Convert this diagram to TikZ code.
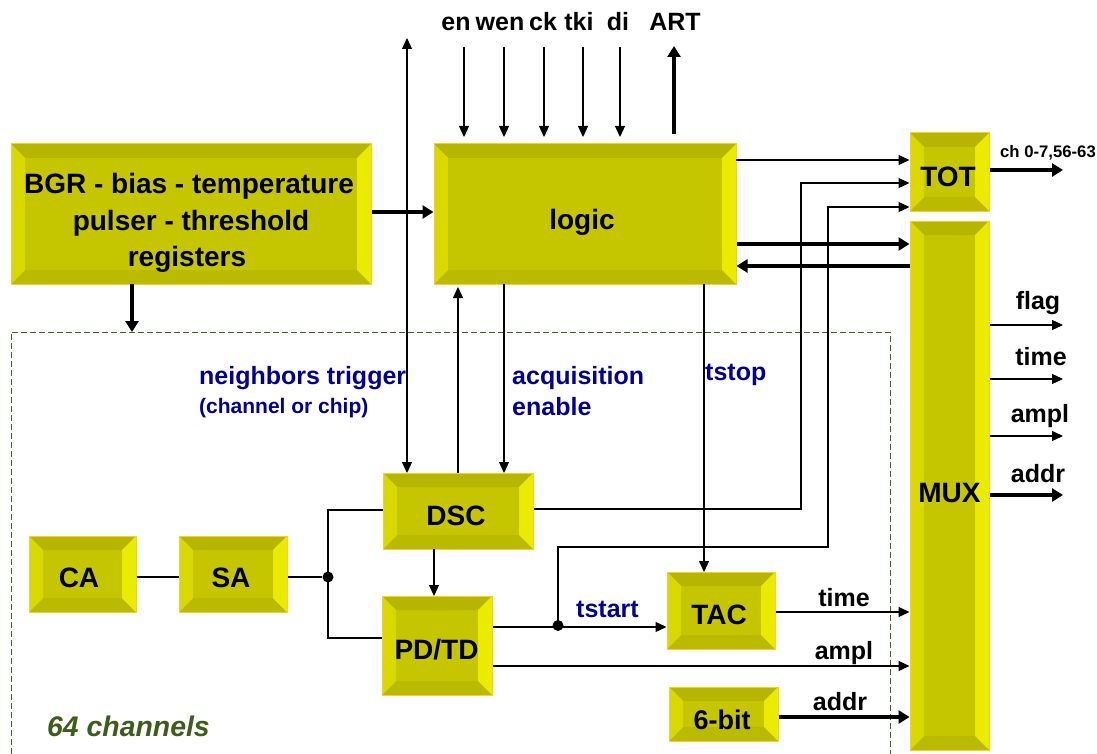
\documentclass[tikz,border=0pt]{standalone}
\usepackage{fontspec}
\setmainfont{Liberation Sans}
\usepackage{tikz}
\usetikzlibrary{arrows.meta, calc}
\definecolor{boxface}{RGB}{197, 197, 0}
\definecolor{boxtop}{RGB}{182, 182, 0}
\definecolor{boxbottom}{RGB}{186, 186, 0}
\definecolor{boxleft}{RGB}{217, 217, 0}
\definecolor{boxright}{RGB}{235, 235, 0}
\definecolor{boxedge}{RGB}{255, 205, 40}
\definecolor{labelblue}{RGB}{0, 0, 153}
\definecolor{channelgreen}{RGB}{62, 92, 28}
\definecolor{dashgreen}{RGB}{70, 100, 40}
% text inside a block, moved by dx and dy
\newcommand{\boxtext}[3]{\hspace*{#1}\raisebox{#2}[\height][\depth]{#3}}
\tikzset{
    bevelbox/.style n args={3}{draw=boxedge, line width=1pt, fill=boxface, inner sep=0pt,
        minimum width=#1, minimum height=#2, font=\bfseries\fontsize{#3}{#3}\selectfont, align=center,
        path picture={
            \coordinate (nw) at (path picture bounding box.north west);
            \coordinate (ne) at (path picture bounding box.north east);
            \coordinate (sw) at (path picture bounding box.south west);
            \coordinate (se) at (path picture bounding box.south east);
            \fill[boxtop] (nw) -- (ne) -- ++(-14pt,-14pt) -- ($(nw)+(14pt,-14pt)$) -- cycle;
            \fill[boxbottom] (sw) -- (se) -- ++(-14pt,14pt) -- ($(sw)+(14pt,14pt)$) -- cycle;
            \fill[boxleft] (nw) -- (sw) -- ++(14pt,14pt) -- ($(nw)+(14pt,-14pt)$) -- cycle;
            \fill[boxright] (ne) -- (se) -- ++(-14pt,14pt) -- ($(ne)+(-14pt,-14pt)$) -- cycle;
        }},
    wire/.style={line width=1.2pt, -{Triangle[length=11pt,width=10pt]}},
    plainwire/.style={line width=1.2pt},
    bothwire/.style={line width=1.2pt, {Triangle[length=11pt,width=10pt]}-{Triangle[length=11pt,width=10pt]}},
    fatwire/.style={line width=3.6pt, -{Triangle[length=11pt,width=13pt]}},
    junction/.style={circle, fill=black, inner sep=0pt, minimum size=11pt},
    pinlabel/.style={font=\bfseries\fontsize{25}{25}\selectfont, inner sep=0pt},
    outlabel/.style={font=\bfseries\fontsize{25}{25}\selectfont, inner sep=0pt},
    bluelabel/.style={font=\bfseries\fontsize{25}{31}\selectfont, text=labelblue, inner sep=0pt, align=left},
}
\begin{document}
\begin{tikzpicture}[x=1pt, y=-1pt]
    \useasboundingbox (0,0) rectangle (1097,754);
    % channel frame
    \draw[dashgreen, line width=1pt, dash pattern=on 6pt off 3pt] (11,754) -- (11,332) -- (890,332) -- (890,754);
    % blocks
    \node[bevelbox={360pt}{140pt}{28}] (bgr) at (191,214) {\boxtext{-4pt}{-9pt}{BGR - bias - temperature}\\[8.5pt]\boxtext{0pt}{-9pt}{pulser - threshold}\\[8.5pt]\boxtext{-8pt}{-9pt}{registers}};
    \node[bevelbox={302pt}{140pt}{28}] (logic) at (585,214) {\boxtext{-6pt}{-8pt}{logic}};
    \node[bevelbox={79pt}{78pt}{28}] (tot) at (949.5,172) {\boxtext{-3pt}{-5pt}{TOT}};
    \node[bevelbox={79pt}{529pt}{28}] (mux) at (949.5,485.5) {\boxtext{0pt}{-8pt}{MUX}};
    \node[bevelbox={150pt}{76pt}{28}] (dsc) at (458,511) {\boxtext{-4pt}{-5pt}{DSC}};
    \node[bevelbox={110pt}{99pt}{28}] (pdtd) at (437,645.5) {\boxtext{-1pt}{-4pt}{PD/TD}};
    \node[bevelbox={107pt}{76pt}{28}] (ca) at (82.5,574) {\boxtext{-7pt}{-4pt}{CA}};
    \node[bevelbox={108pt}{76pt}{28}] (sa) at (233,574) {\boxtext{-4pt}{-4pt}{SA}};
    \node[bevelbox={108pt}{77pt}{28}] (tac) at (721,610.5) {\boxtext{-4pt}{-4pt}{TAC}};
    \node[bevelbox={109pt}{54pt}{27}] (sixbit) at (723.5,714) {\boxtext{-3pt}{-6pt}{6-bit}};
    % free ends
    \coordinate (nbtop) at (407,38);
    \node[junction] (sumdot) at (328,577) {};
    \node[junction] (startdot) at (558,625.5) {};
    % pins on top
    \foreach \pinname/\pinx/\textx in {en/464/456, wen/504/500, ck/544/543, tki/583/579, di/620/618} {
        \node[pinlabel, anchor=base] (\pinname) at (\textx,31) {\pinname};
        \draw[wire] (\pinx,47) -- (\pinx,137);
    }
    \node[pinlabel, anchor=base] (art) at (675,31) {ART};
    \draw[fatwire] (674,134) -- (674,46);
    % connectors
    \draw[fatwire] (bgr.east |- 0,212) -- (logic.west |- 0,212);
    \draw[fatwire] (132,284) -- (132,332);
    \draw[bothwire] (nbtop) -- (407,473);
    \draw[wire] (736,160) -- (tot.west |- 0,160);
    \draw[wire] (dsc.east |- 0,509) -- (801,509) -- (801,183) -- (tot.west |- 0,183);
    \draw[wire] (startdot.center) -- (558,547) -- (828,547) -- (828,207) -- (tot.west |- 0,207);
    \draw[fatwire] (logic.east |- 0,244) -- (mux.west |- 0,244);
    \draw[fatwire] (mux.west |- 0,266) -- (logic.east |- 0,266);
    \draw[wire] (458,473) -- (458,287);
    \draw[wire] (504,284) -- (504,473);
    \draw[wire] (704,284) -- (704,572);
    \draw[fatwire] (tot.east |- 0,170) -- (1063,170);
    \draw[wire] (mux.east |- 0,325) -- (1063,325);
    \draw[wire] (mux.east |- 0,379) -- (1063,379);
    \draw[wire] (mux.east |- 0,436) -- (1063,436);
    \draw[fatwire] (mux.east |- 0,495) -- (1063,495);
    \draw[plainwire] (ca.east |- 0,577) -- (sa.west |- 0,577);
    \draw[plainwire] (sa.east |- 0,577) -- (sumdot);
    \draw[plainwire] (dsc.west |- 0,510) -- (328,510) -- (328,638) -- (pdtd.west |- 0,638);
    \draw[wire] (434,549) -- (434,596);
    \draw[wire] (pdtd.east |- 0,627) -- (tac.west |- 0,627);
    \draw[wire] (tac.east |- 0,612) -- (mux.west |- 0,612);
    \draw[wire] (pdtd.east |- 0,666) -- (mux.west |- 0,666);
    \draw[fatwire] (sixbit.east |- 0,717) -- (mux.west |- 0,717);
    % labels
    \node[font=\bfseries\fontsize{16.7}{16.7}\selectfont, inner sep=0pt] (chlabel) at (1048,153) {ch 0-7,56-63};
    \node[outlabel] (flaglabel) at (1038,303) {flag};
    \node[outlabel] (timelabel) at (1041,357) {time};
    \node[outlabel] (ampllabel) at (1040,416) {ampl};
    \node[outlabel] (addrlabel) at (1038,474) {addr};
    \node[outlabel] (timeinlabel) at (844,598) {time};
    \node[outlabel] (amplinlabel) at (844,653) {ampl};
    \node[outlabel] (addrinlabel) at (840,702) {addr};
    \node[bluelabel, anchor=west] (nblabel) at (199,378) {neighbors trigger};
    \node[bluelabel, anchor=west, font=\bfseries\fontsize{21}{21}\selectfont] (chanlabel) at (199,408) {(channel or chip)};
    \node[bluelabel, anchor=north west] (acqlabel) at (512,366) {acquisition\\enable};
    \node[bluelabel, anchor=west] (stoplabel) at (705,375) {tstop};
    \node[bluelabel, anchor=west] (startlabel) at (576,609) {tstart};
    \node[anchor=west, inner sep=0pt, text=channelgreen, font=\bfseries\itshape\fontsize{28.4}{28.4}\selectfont] (chlabelb) at (47,726) {64 channels};
\end{tikzpicture}
\end{document}
